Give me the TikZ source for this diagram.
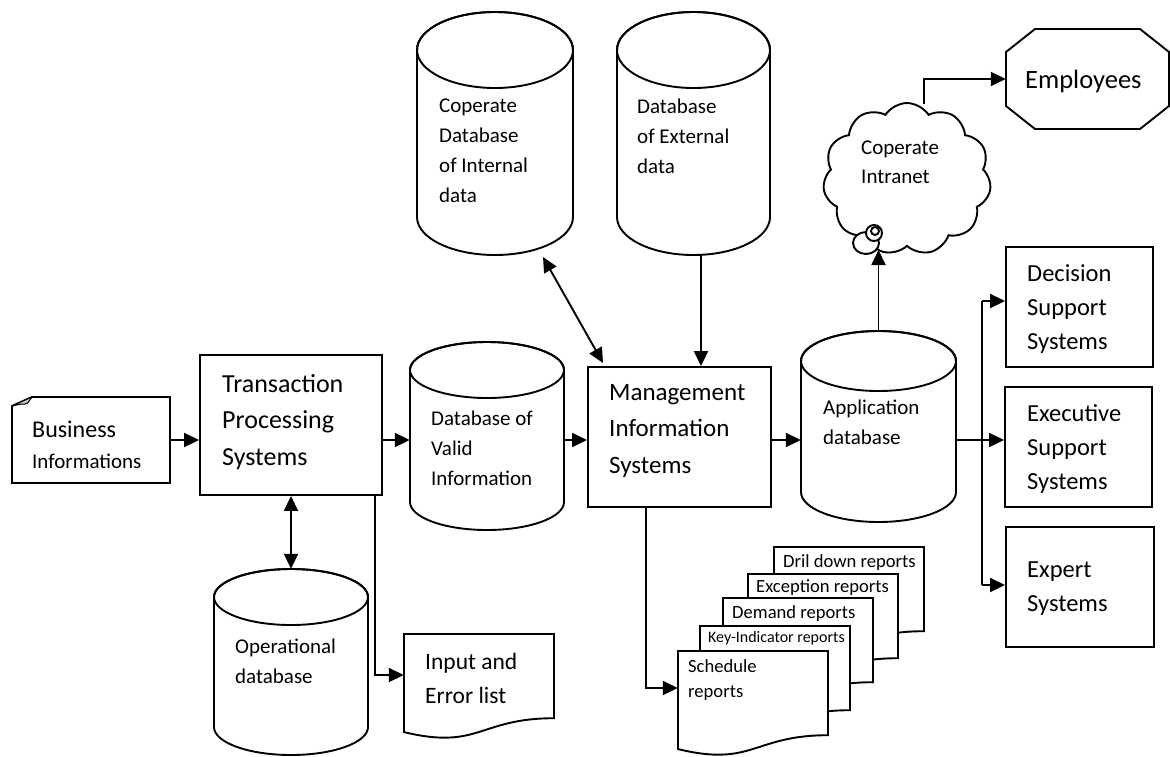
\documentclass[tikz,border=0pt]{standalone}
\usepackage{fontspec}
\setmainfont{Carlito}
\usetikzlibrary{arrows.meta,shapes.symbols,calc}

% font sizes used in the chart
\newcommand\szBig{\fontsize{26}{36.5}\selectfont}
\newcommand\szSys{\fontsize{24.5}{34}\selectfont}
\newcommand\szMis{\fontsize{25}{36.5}\selectfont}
\newcommand\szDb{\fontsize{21}{29.7}\selectfont}
\newcommand\szRep{\fontsize{18.6}{25}\selectfont}

% text nodes are placed by the baseline of their last line
\tikzset{
  ln/.style={line width=1.9pt, line join=miter},
  arr/.style={ln, -{Triangle[length=15pt,width=14pt]}},
  darr/.style={ln, {Triangle[length=15pt,width=14pt]}-{Triangle[length=15pt,width=14pt]}},
  box/.style={draw, line width=1.9pt, fill=white, inner sep=0pt},
  area/.style={inner sep=0pt},
  txt/.style={anchor=base west, inner sep=0pt, align=left},
}

% database drum: name, left, right, top, bottom, end-ellipse radius
\newcommand\dbdrum[6]{%
  \node[area, minimum width={#3-#2}, minimum height={#5-#4}] (#1) at ({(#2+#3)/2},{(#4+#5)/2}) {};
  \draw[ln, fill=white] (#2,{#4+#6}) -- (#2,{#5-#6})
    arc[start angle=180, end angle=0, x radius={(#3-#2)/2}, y radius=#6]
    -- (#3,{#4+#6})
    arc[start angle=0, end angle=-180, x radius={(#3-#2)/2}, y radius=#6] -- cycle;
  \draw[ln] ({(#2+#3)/2},{#4+#6}) ellipse[x radius={(#3-#2)/2}, y radius=#6];
}

% printed document with a wavy lower edge: name, left, top, width, height
\newcommand\printdoc[5]{%
  \node[area, minimum width=#4, minimum height=#5] (#1) at ({#2+#4/2},{#3+#5/2}) {};
  \draw[ln, fill=white] (#2,#3) -- ({#2+#4},#3) -- ({#2+#4},{#3+0.802*#5})
    .. controls ({#2+#4/2},{#3+0.802*#5}) and ({#2+#4/2},{#3+1.1075*#5}) .. (#2,{#3+0.934*#5}) -- cycle;
}

\begin{document}
\begin{tikzpicture}[x=1pt, y=-1pt]
\useasboundingbox (0,0) rectangle (1170,756);
\fill[white] (0,0) rectangle (1170,756);

% ---------- top data stores ----------
\dbdrum{cdi}{417}{573}{12}{255}{38}
\node[txt, font=\szDb] (cdit) at (439,202) {Coperate\\Database\\of Internal\\data};

\dbdrum{ext}{617}{770}{12}{255}{38}
\node[txt, font=\szDb] (extt) at (637,173) {Database\\of External\\data};

% ---------- business input ----------
\node[area, minimum width=158, minimum height=86] (biz) at (91,440) {};
\draw[ln, fill=white] (32,397) -- (170,397) -- (170,483) -- (12,483) -- (12,406) -- cycle;
\fill[gray!45] (12,406) -- (32,397) .. controls (29,401) and (28,404) .. (25,404) .. controls (20,404) and (16,405) .. cycle;
\draw[line width=1pt] (12,406) -- (32,397) .. controls (29,401) and (28,404) .. (25,404) .. controls (20,404) and (16,405) .. (12,406);
\node[txt, font=\fontsize{24}{30}\selectfont] (bizA) at (32,437) {Business};
\node[txt, font=\fontsize{21}{30}\selectfont] (bizB) at (32,468) {Informations};

% ---------- processing chain ----------
\node[box, minimum width=182, minimum height=140] (tps) at (291,425) {};
\node[txt, font=\szBig] (tpst) at (222,465) {Transaction\\Processing\\Systems};

\dbdrum{dvi}{410}{564}{342}{530}{28}
\node[txt, font=\szDb] (dvit) at (431,485) {Database of\\Valid\\Information};

\node[box, minimum width=183, minimum height=140] (mis) at (679.5,437) {};
\node[txt, font=\szMis] (mist) at (609,473) {Management\\Information\\Systems};

\dbdrum{app}{801}{956}{331}{522}{30}
\node[txt, font=\szDb] (appt) at (823,444) {Application\\database};

\dbdrum{opdb}{214}{368}{569}{755}{28}
\node[txt, font=\szDb] (opdbt) at (235,683) {Operational\\database};

\printdoc{inl}{404}{634}{150}{105}
\node[txt, font=\fontsize{23.5}{34}\selectfont] (inlt) at (425,703) {Input and\\Error list};

% ---------- report stack ----------
\printdoc{dril}{774}{547}{150}{105}
\node[txt, font=\szRep] (drilt) at (783,567) {Dril down reports};
\printdoc{exc}{748}{574}{150}{105}
\node[txt, font=\szRep] (exct) at (756,592) {Exception reports};
\printdoc{dem}{723}{598}{150}{105}
\node[txt, font=\szRep] (demt) at (732,618) {Demand reports};
\printdoc{key}{700}{626}{150}{105}
\node[txt, font=\fontsize{16}{20}\selectfont] (keyt) at (708,642) {Key-Indicator reports};
\printdoc{sch}{678}{651}{150}{105}
\node[txt, font=\szRep] (scht) at (688,697) {Schedule\\reports};

% ---------- downstream systems ----------
\node[box, minimum width=147, minimum height=120] (dss) at (1079.5,307) {};
\node[txt, font=\szSys] (dsst) at (1027,349) {Decision\\Support\\Systems};
\node[box, minimum width=147, minimum height=120] (ess) at (1078.5,447) {};
\node[txt, font=\szSys] (esst) at (1027,489) {Executive\\Support\\Systems};
\node[box, minimum width=148, minimum height=120] (exp) at (1080,587) {};
\node[txt, font=\szSys] (expt) at (1027,611) {Expert\\Systems};

% ---------- intranet and employees ----------
\node[cloud, draw, ln, fill=white, cloud puffs=11, cloud puff arc=115, aspect=1.1,
      minimum width=168, minimum height=152, inner sep=0pt] (net) at (907,179) {};
\node[txt, font=\fontsize{21}{28.5}\selectfont] (nett) at (861,183) {Coperate\\Intranet};
\draw[ln, fill=white] (866,243) ellipse[x radius=13, y radius=11];
\draw[ln, fill=white] (874,233) circle[radius=8];
\draw[ln] (875,231) circle[radius=4];

\node[area, minimum width=163, minimum height=100] (emp) at (1087.5,79) {};
\draw[ln, fill=white] (1035,29) -- (1140,29) -- (1169,52) -- (1169,106) -- (1140,129)
  -- (1035,129) -- (1006,106) -- (1006,52) -- cycle;
\node[txt, font=\fontsize{26.5}{32}\selectfont] (empt) at (1025,88) {Employees};

% ---------- connector levels ----------
\coordinate (lvl) at (0,440);
\coordinate (tpsx) at (375,0);
\coordinate (inlvl) at (0,675);
\coordinate (misx) at (646,0);
\coordinate (schlvl) at (0,688);
\coordinate (extx) at (701,0);
\coordinate (bx) at (982,0);
\coordinate (dsslvl) at (0,301);
\coordinate (explvl) at (0,585);
\coordinate (tail) at (0,250);
\coordinate (nettop) at (924,104);
\coordinate (cdiend) at (543,257);
\coordinate (misend) at (603,363);

% ---------- connectors ----------
\draw[arr] (biz.east) -- (tps.west |- lvl);
\draw[arr] (tps.east |- lvl) -- (dvi.west |- lvl);
\draw[arr] (dvi.east |- lvl) -- (mis.west |- lvl);
\draw[arr] (mis.east |- lvl) -- (app.west |- lvl);
\draw[darr] (tps.south) -- (opdb.north);
\draw[arr] (tps.south -| tpsx) |- (inl.west |- inlvl);
\draw[arr] (mis.south -| misx) |- (sch.west |- schlvl);
\draw[arr] (ext.south -| extx) -- (mis.north -| extx);
\draw[darr] (cdiend) -- (misend);
\draw[arr] (app.north) -- (app.north |- tail);
\draw[arr] (nettop) |- (emp.west);
\draw[arr] (app.east |- lvl) -- (ess.west |- lvl);
\draw[ln] (bx |- dsslvl) -- (bx |- explvl);
\draw[arr] (bx |- dsslvl) -- (dss.west |- dsslvl);
\draw[arr] (bx |- explvl) -- (exp.west |- explvl);
\end{tikzpicture}
\end{document}
